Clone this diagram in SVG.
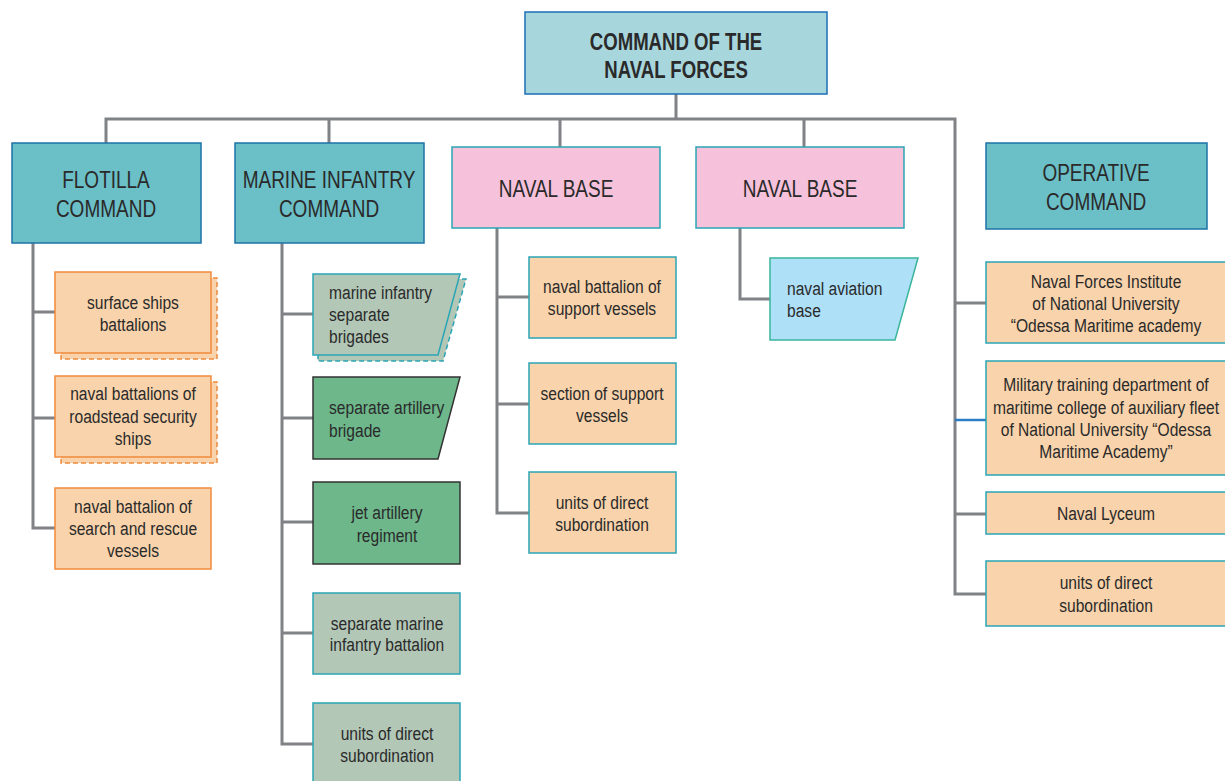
<svg xmlns="http://www.w3.org/2000/svg" width="1225" height="781" viewBox="0 0 1225 781">
<style>
text{font-family:"Liberation Sans",Arial,sans-serif;fill:#2a2a2a}
.t{font-size:18.6px;font-weight:bold;text-anchor:middle}
.h{font-size:19px;text-anchor:middle}
.s{font-size:15.6px;text-anchor:middle}
.sl{font-size:15.6px;text-anchor:start}
.top{fill:#a8d6dd;stroke:#1c6db5;stroke-width:1.5}
.hd{fill:#6bbfc7;stroke:#1e73a8;stroke-width:1.5}
.pk{fill:#f6c1da;stroke:#2aa5b5;stroke-width:1.5}
.or{fill:#f9d3ab;stroke:#ef8a3c;stroke-width:1.5}
.ord{fill:#f9d3ab;stroke:#ef8a3c;stroke-width:1.5;stroke-dasharray:5 3}
.ot{fill:#f9d3ab;stroke:#2aa5b5;stroke-width:1.5}
.gg{fill:#b3c7b7;stroke:#2aa5b5;stroke-width:1.5}
.ggd{fill:#b3c7b7;stroke:#2aa5b5;stroke-width:1.5;stroke-dasharray:5 3}
.gr{fill:#6db78b;stroke:#333;stroke-width:1.5}
.lb{fill:#aee0f8;stroke:#3ab59a;stroke-width:1.5}
.c{fill:none;stroke:#808285;stroke-width:3}
</style>
<g id="connectors">
<path class="c" d="M676 94V119M106 143V119H955V594H986M329 119V143M560 119V147M804 119V147"/>
<path class="c" d="M33 243V528H55M33 312H55M33 418H55"/>
<path class="c" d="M282 243V744H313M282 314H313M282 418H313M282 522H313M282 633H313"/>
<path class="c" d="M497 228V513H529M497 297H529M497 404H529"/>
<path class="c" d="M740 228V299H770"/>
<path class="c" d="M955 303H986M955 514H986"/>
<path d="M955 420H986" fill="none" stroke="#2a7fc4" stroke-width="2.5"/>
</g>
<g id="n-top">
<rect class="top" x="525" y="12" width="302" height="82"/>
<text class="t" transform="translate(676,50) scale(1,1.33)">COMMAND OF THE</text>
<text class="t" transform="translate(676,78) scale(1,1.33)">NAVAL FORCES</text>
</g>
<g id="n-flotilla">
<rect class="hd" x="12" y="143" width="189" height="100"/>
<text class="h" transform="translate(106,188) scale(1,1.3)">FLOTILLA</text>
<text class="h" transform="translate(106,217) scale(1,1.3)">COMMAND</text>
</g>
<g id="n-marine">
<rect class="hd" x="235" y="143" width="189" height="100"/>
<text class="h" transform="translate(329,188) scale(1,1.3)">MARINE INFANTRY</text>
<text class="h" transform="translate(329,217) scale(1,1.3)">COMMAND</text>
</g>
<g id="n-base1">
<rect class="pk" x="452" y="147" width="208" height="81"/>
<text class="h" transform="translate(556,197) scale(1,1.3)">NAVAL BASE</text>
</g>
<g id="n-base2">
<rect class="pk" x="696" y="147" width="208" height="81"/>
<text class="h" transform="translate(800,197) scale(1,1.3)">NAVAL BASE</text>
</g>
<g id="n-operative">
<rect class="hd" x="986" y="143" width="221" height="86"/>
<text class="h" transform="translate(1096,181) scale(1,1.3)">OPERATIVE</text>
<text class="h" transform="translate(1096,210) scale(1,1.3)">COMMAND</text>
</g>
<g id="n-f1">
<rect class="ord" x="61" y="278" width="156" height="81"/>
<rect class="or" x="55" y="272" width="156" height="81"/>
<text class="s" transform="translate(133,309) scale(1,1.15)">surface ships</text>
<text class="s" transform="translate(133,331) scale(1,1.15)">battalions</text>
</g>
<g id="n-f2">
<rect class="ord" x="61" y="382" width="156" height="81"/>
<rect class="or" x="55" y="376" width="156" height="81"/>
<text class="s" transform="translate(133,400) scale(1,1.15)">naval battalions of</text>
<text class="s" transform="translate(133,423) scale(1,1.15)">roadstead security</text>
<text class="s" transform="translate(133,445) scale(1,1.15)">ships</text>
</g>
<g id="n-f3">
<rect class="or" x="55" y="488" width="156" height="81"/>
<text class="s" transform="translate(133,513) scale(1,1.15)">naval battalion of</text>
<text class="s" transform="translate(133,535) scale(1,1.15)">search and rescue</text>
<text class="s" transform="translate(133,557) scale(1,1.15)">vessels</text>
</g>
<g id="n-m1">
<path class="ggd" d="M318 279H466L443 361H318Z"/>
<path class="gg" d="M313 274H460L438 355H313Z"/>
<text class="sl" transform="translate(329,299) scale(1,1.15)">marine infantry</text>
<text class="sl" transform="translate(329,321) scale(1,1.15)">separate</text>
<text class="sl" transform="translate(329,343) scale(1,1.15)">brigades</text>
</g>
<g id="n-m2">
<path class="gr" d="M313 377H460L438 459H313Z"/>
<text class="sl" transform="translate(329,414) scale(1,1.15)">separate artillery</text>
<text class="sl" transform="translate(329,437) scale(1,1.15)">brigade</text>
</g>
<g id="n-m3">
<rect class="gr" x="313" y="482" width="147" height="82"/>
<text class="s" transform="translate(387,519) scale(1,1.15)">jet artillery</text>
<text class="s" transform="translate(387,542) scale(1,1.15)">regiment</text>
</g>
<g id="n-m4">
<rect class="gg" x="313" y="593" width="147" height="81"/>
<text class="s" transform="translate(387,630) scale(1,1.15)">separate marine</text>
<text class="s" transform="translate(387,651) scale(1,1.15)">infantry battalion</text>
</g>
<g id="n-m5">
<rect class="gg" x="313" y="703" width="147" height="82"/>
<text class="s" transform="translate(387,740) scale(1,1.15)">units of direct</text>
<text class="s" transform="translate(387,762) scale(1,1.15)">subordination</text>
</g>
<g id="n-b1">
<rect class="ot" x="529" y="257" width="147" height="81"/>
<text class="s" transform="translate(602,293) scale(1,1.15)">naval battalion of</text>
<text class="s" transform="translate(602,315) scale(1,1.15)">support vessels</text>
</g>
<g id="n-b2">
<rect class="ot" x="529" y="363" width="147" height="81"/>
<text class="s" transform="translate(602,400) scale(1,1.15)">section of support</text>
<text class="s" transform="translate(602,422) scale(1,1.15)">vessels</text>
</g>
<g id="n-b3">
<rect class="ot" x="529" y="472" width="147" height="81"/>
<text class="s" transform="translate(602,509) scale(1,1.15)">units of direct</text>
<text class="s" transform="translate(602,531) scale(1,1.15)">subordination</text>
</g>
<g id="n-air">
<path class="lb" d="M770 258H918L895 340H770Z"/>
<text class="sl" transform="translate(787,295) scale(1,1.15)">naval aviation</text>
<text class="sl" transform="translate(787,317) scale(1,1.15)">base</text>
</g>
<g id="n-o1">
<rect class="ot" x="986" y="262" width="240" height="81"/>
<text class="s" transform="translate(1106,288) scale(1,1.15)">Naval Forces Institute</text>
<text class="s" transform="translate(1106,310) scale(1,1.15)">of National University</text>
<text class="s" transform="translate(1106,332) scale(1,1.15)">“Odessa Maritime academy</text>
</g>
<g id="n-o2">
<rect class="ot" x="986" y="361" width="240" height="114"/>
<text class="s" transform="translate(1106,391) scale(1,1.15)">Military training department of</text>
<text class="s" transform="translate(1106,414) scale(1,1.15)">maritime college of auxiliary fleet</text>
<text class="s" transform="translate(1106,436) scale(1,1.15)">of National University “Odessa</text>
<text class="s" transform="translate(1106,458) scale(1,1.15)">Maritime Academy”</text>
</g>
<g id="n-o3">
<rect class="ot" x="986" y="492" width="240" height="42"/>
<text class="s" transform="translate(1106,520) scale(1,1.15)">Naval Lyceum</text>
</g>
<g id="n-o4">
<rect class="ot" x="986" y="561" width="240" height="65"/>
<text class="s" transform="translate(1106,589) scale(1,1.15)">units of direct</text>
<text class="s" transform="translate(1106,612) scale(1,1.15)">subordination</text>
</g>
</svg>
